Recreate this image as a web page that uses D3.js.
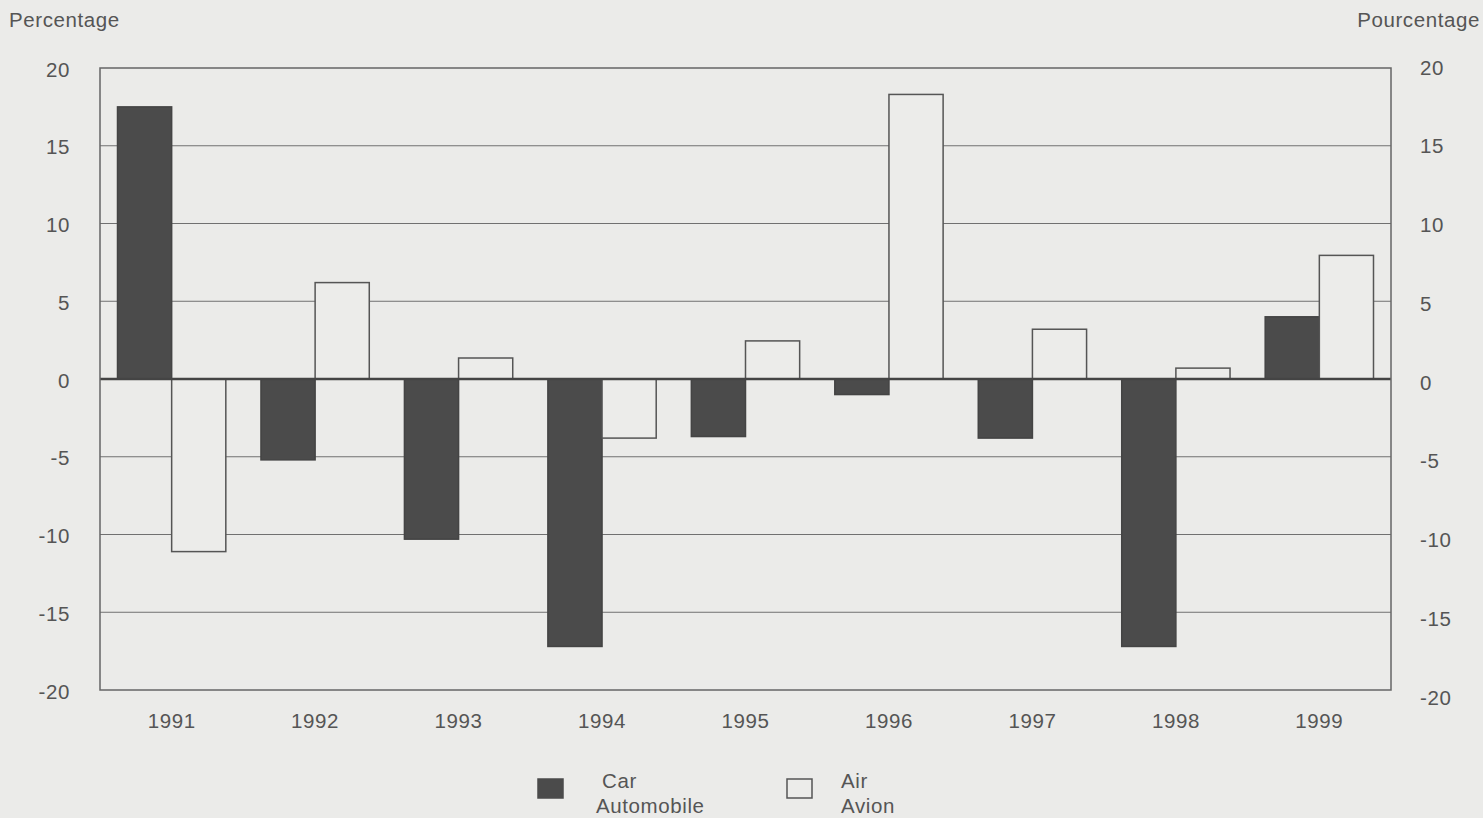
<!DOCTYPE html>
<html><head><meta charset="utf-8">
<script src="https://cdn.jsdelivr.net/npm/d3@7"></script>
<style>
html,body{margin:0;padding:0;background:#ebebe9;}
svg{display:block;}
text{font-family:"Liberation Sans",Arial,Helvetica,sans-serif;fill:#555;letter-spacing:0.6px;}
</style></head><body>
<svg id="c" width="1483" height="818"></svg>
<script>
const years = ["1991","1992","1993","1994","1995","1996","1997","1998","1999"];
const carValues = [17.5, -5.2, -10.3, -17.2, -3.7, -1.0, -3.8, -17.2, 4.0];
const airValues = [-11.1, 6.2, 1.35, -3.8, 2.45, 18.3, 3.2, 0.7, 7.95];
const tickValues = [20, 15, 10, 5, 0, -5, -10, -15, -20];
const seriesNames = ["car", "air"];
const legendLabels = [["Car","Automobile"],["Air","Avion"]];

const FS = "20.5px";
const svg = d3.select("#c");
const L = 100, R = 1391, T = 68, B = 690;
const y = d3.scaleLinear().domain([-20, 20]).range([B, T]);
const yRight = d3.scaleLinear().domain([-20, 20]).range([700, 70]);
const x = d3.scaleBand().domain(years).range([L, R]).paddingInner(0.245).paddingOuter(0.122);
const xs = d3.scaleBand().domain(seriesNames).range([0, x.bandwidth()]);
const colors = {car:"#4b4b4b", air:"#ececea"};
const fmt = d => String(d);

// background gridlines
svg.append("g").selectAll("line").data(tickValues.filter(d => d !== 0 && Math.abs(d) !== 20))
  .join("line").attr("x1", L).attr("x2", R).attr("y1", d => y(d)).attr("y2", d => y(d))
  .attr("stroke", "#707070").attr("stroke-width", 1);

const rows = years.map((yr, i) => ({yr, car: carValues[i], air: airValues[i]}));
const g = svg.append("g");
rows.forEach(r => {
  seriesNames.forEach(s => {
    const v = r[s];
    g.append("rect")
      .attr("x", x(r.yr) + xs(s))
      .attr("width", xs.bandwidth())
      .attr("y", y(Math.max(0, v)))
      .attr("height", Math.abs(y(v) - y(0)))
      .attr("fill", colors[s])
      .attr("stroke", s === "air" ? "#555" : "#444")
      .attr("stroke-width", 1.5);
  });
});

// zero line
svg.append("line").attr("x1", L).attr("x2", R).attr("y1", y(0)).attr("y2", y(0))
  .attr("stroke", "#444").attr("stroke-width", 2.5);

// frame
svg.append("rect").attr("x", L).attr("y", T).attr("width", R - L).attr("height", B - T)
  .attr("fill", "none").attr("stroke", "#666").attr("stroke-width", 1.5);

function styleText(sel){
  sel.selectAll("text").style("font-size", FS).attr("fill", "#555")
    .style("font-family", '"Liberation Sans",Arial,sans-serif');
}

// left axis
const la = svg.append("g").attr("transform", `translate(${L - 30},0)`)
  .call(d3.axisLeft(y).tickValues(tickValues).tickFormat(fmt).tickSize(0).tickPadding(0));
la.select(".domain").remove();
styleText(la); la.selectAll("text").attr("dy", "0.4em");

// right axis
const ra = svg.append("g").attr("transform", `translate(${R + 29},0)`)
  .call(d3.axisRight(yRight).tickValues(tickValues).tickFormat(fmt).tickSize(0).tickPadding(0));
ra.select(".domain").remove();
styleText(ra); ra.selectAll("text").attr("dy", "0.2em");

// x axis
const xa = svg.append("g").attr("transform", `translate(0,${B})`)
  .call(d3.axisBottom(x).tickSize(0).tickPadding(23));
xa.select(".domain").remove();
styleText(xa);

// axis titles
svg.append("text").attr("x", 9).attr("y", 27).style("font-size", FS).text("Percentage");
svg.append("text").attr("x", 1480).attr("y", 27).attr("text-anchor", "end").style("font-size", FS).text("Pourcentage");

// legend
const legX = [538, 787];
legendLabels.forEach((lab, i) => {
  const s = seriesNames[i];
  svg.append("rect").attr("x", legX[i]).attr("y", 779).attr("width", 25).attr("height", 19)
    .attr("fill", colors[s]).attr("stroke", s === "air" ? "#555" : "#4b4b4b").attr("stroke-width", 1.5);
  const tx = i === 0 ? [602, 596] : [841, 841];
  svg.append("text").attr("x", tx[0]).attr("y", 788).style("font-size", FS).text(lab[0]);
  svg.append("text").attr("x", tx[1]).attr("y", 813).style("font-size", FS).text(lab[1]);
});
</script>
</body></html>
